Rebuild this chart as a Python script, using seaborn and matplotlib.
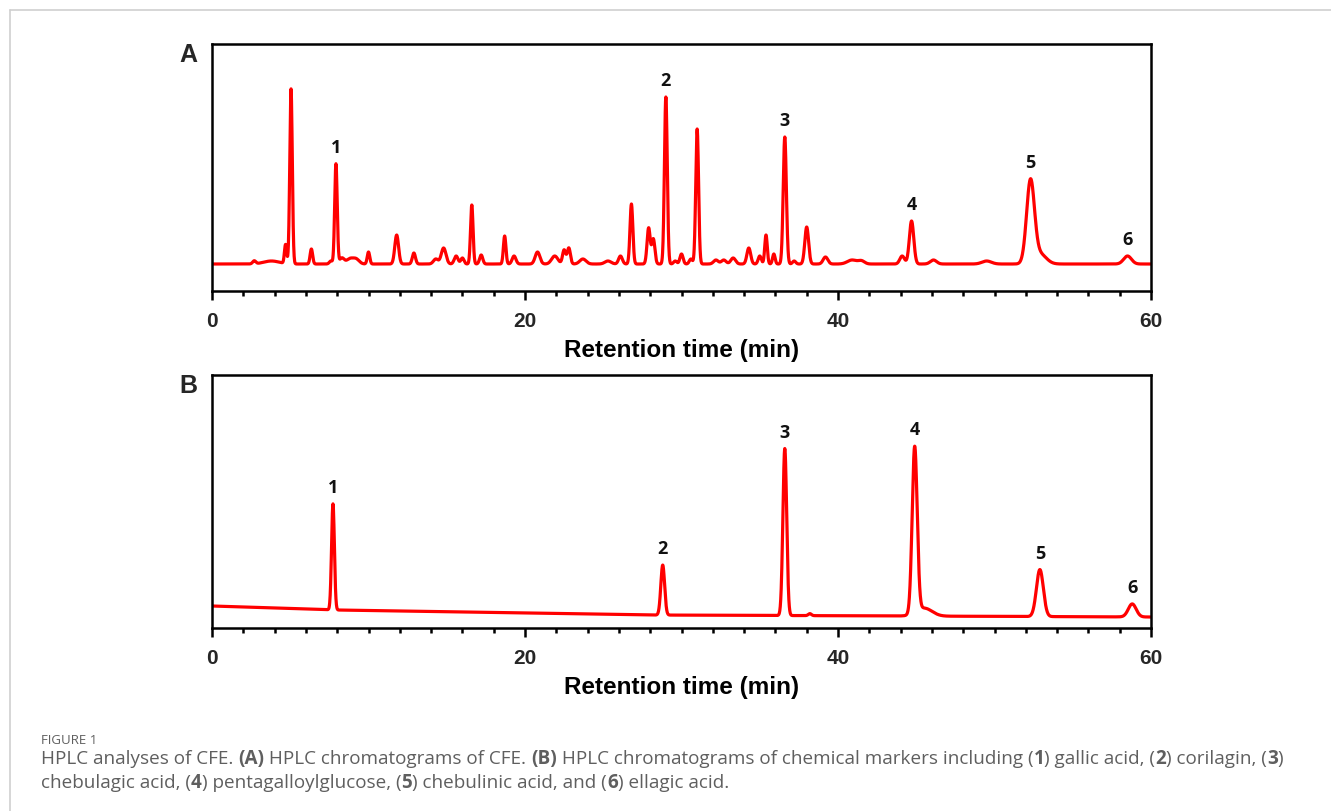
import numpy as np
import pandas as pd
import matplotlib
matplotlib.use("Agg")
import matplotlib.pyplot as plt
from matplotlib.lines import Line2D
from matplotlib.ticker import MultipleLocator
import seaborn as sns

# ---------------- data ----------------
# Panel A: CFE chromatogram peaks (retention time, height, width sigma, in min / arbitrary units)
a_rt = [2.7, 3.8, 4.7, 5.05, 6.35, 7.6, 7.92, 8.3, 8.8, 9.2, 10.0, 11.8, 12.9, 14.3, 14.8,
        15.6, 16.0, 16.6, 17.2, 18.7, 19.3, 20.8, 21.9, 22.5, 22.8, 23.7, 25.3, 26.1, 26.8,
        27.9, 28.2, 29.0, 29.6, 30.0, 30.6, 31.0, 32.2, 32.7, 33.3, 34.3, 35.0, 35.4, 35.9,
        36.6, 37.2, 38.0, 39.2, 40.9, 41.5, 44.1, 44.7, 46.1, 49.5, 52.3, 52.9, 58.5]
a_height = [3, 3, 19, 175, 15, 3, 100, 6, 5, 5, 12, 29, 11, 5, 16,
            8, 6, 59, 9, 28, 8, 12, 8, 14, 16, 5, 3, 8, 60,
            36, 25, 167, 3, 10, 5, 135, 4, 4, 6, 16, 8, 29, 10,
            127, 3, 37, 7, 4, 3, 8, 43, 4, 3, 82, 10, 8]
a_sigma = [0.1, 0.5, 0.07, 0.08, 0.08, 0.1, 0.08, 0.15, 0.2, 0.2, 0.08, 0.12, 0.1, 0.15, 0.15,
           0.12, 0.1, 0.08, 0.1, 0.08, 0.12, 0.15, 0.2, 0.1, 0.1, 0.2, 0.2, 0.12, 0.09,
           0.1, 0.1, 0.09, 0.1, 0.1, 0.1, 0.09, 0.15, 0.15, 0.15, 0.12, 0.1, 0.08, 0.08,
           0.1, 0.1, 0.12, 0.15, 0.3, 0.2, 0.15, 0.14, 0.2, 0.3, 0.25, 0.4, 0.25]
a_marker_labels = ["1", "2", "3", "4", "5", "6"]
a_marker_rt = [7.92, 29.0, 36.6, 44.7, 52.3, 58.5]

# Panel B: chemical markers
b_rt = [7.73, 28.8, 36.6, 38.2, 44.9, 45.5, 52.9, 58.8]
b_height = [106, 50, 167, 2, 166, 8, 47, 13]
b_sigma = [0.09, 0.12, 0.12, 0.1, 0.16, 0.5, 0.22, 0.25]
b_base_t = [0, 8, 28, 60]
b_base_y = [10, 6, 1, -1]
b_marker_labels = ["1", "2", "3", "4", "5", "6"]
b_marker_rt = [7.73, 28.8, 36.6, 44.9, 52.9, 58.8]

x_ticks = [0, 20, 40, 60]
x_label = "Retention time (min)"
caption_title = "FIGURE 1"
caption_runs_1 = [("HPLC analyses of CFE. ", "normal"), ("(A)", "bold"),
                  (" HPLC chromatograms of CFE. ", "normal"), ("(B)", "bold"),
                  (" HPLC chromatograms of chemical markers including (", "normal"), ("1", "bold"),
                  (") gallic acid, (", "normal"), ("2", "bold"), (") corilagin, (", "normal"),
                  ("3", "bold"), (")", "normal")]
caption_runs_2 = [("chebulagic acid, (", "normal"), ("4", "bold"), (") pentagalloylglucose, (", "normal"),
                  ("5", "bold"), (") chebulinic acid, and (", "normal"), ("6", "bold"),
                  (") ellagic acid.", "normal")]


def trace(t, rts, hs, sig, base=None):
    y = np.zeros_like(t) if base is None else base.copy()
    for r, h, s in zip(rts, hs, sig):
        y = y + h * np.exp(-0.5 * ((t - r) / s) ** 2)
    return y


t = np.linspace(0, 60, 6001)
df_a = pd.DataFrame({"t": t, "signal": trace(t, a_rt, a_height, a_sigma)})
df_b = pd.DataFrame({"t": t, "signal": trace(t, b_rt, b_height, b_sigma,
                                              np.interp(t, b_base_t, b_base_y))})

# ---------------- figure ----------------
sns.set_theme(style="white")
plt.rcParams["font.family"] = ["Liberation Sans", "DejaVu Sans"]

W, H = 1331, 812
fig = plt.figure(figsize=(W / 100, H / 100), dpi=100)
fig.patch.set_facecolor("white")


def fx(px):
    return px / W


def fy(py):
    return 1 - py / H


axA = fig.add_axes([fx(212), fy(292), fx(1151) - fx(212), fy(45) - fy(292)])
axB = fig.add_axes([fx(212), fy(629), fx(1151) - fx(212), fy(376) - fy(629)])

red = "#ff0000"
for ax, df, ylim, lab_rt, labs in [(axA, df_a, (-27, 220), a_marker_rt, a_marker_labels),
                                    (axB, df_b, (-12, 241), b_marker_rt, b_marker_labels)]:
    sns.lineplot(data=df, x="t", y="signal", ax=ax, color=red, linewidth=2.3,
                 estimator=None, sort=False)
    ax.set_xlim(0, 60)
    ax.set_ylim(*ylim)
    ax.set_yticks([])
    ax.set_ylabel("")
    ax.set_xticks(x_ticks)
    ax.xaxis.set_minor_locator(MultipleLocator(2))
    ax.tick_params(axis="x", which="major", direction="out", length=6.5, width=1.8,
                   bottom=True, pad=8, labelsize=15, color="black")
    ax.tick_params(axis="x", which="minor", direction="out", length=3.5, width=1.8,
                   bottom=True, color="black")
    for lbl in ax.get_xticklabels():
        lbl.set_fontweight("bold")
    for sp in ax.spines.values():
        sp.set_visible(True)
        sp.set_color("black")
        sp.set_linewidth(1.8)
    ax.set_xlabel(x_label, fontsize=17.5, fontweight="bold", labelpad=6, color="black")
    ax.set_facecolor("white")
    for l, r in zip(labs, lab_rt):
        m = (df["t"] > r - 0.5) & (df["t"] < r + 0.5)
        idx = df.loc[m, "signal"].idxmax()
        ax.annotate(l, xy=(df.loc[idx, "t"], df.loc[idx, "signal"]), xytext=(0, 8.5),
                    textcoords="offset points", ha="center", va="baseline",
                    fontsize=13, fontweight="bold", family=["Open Sans", "DejaVu Sans"],
                    color="#111111")

fig.text(fx(188), fy(55), "A", fontsize=18, fontweight="bold", ha="center", va="center")
fig.text(fx(188), fy(386), "B", fontsize=18, fontweight="bold", ha="center", va="center")

# page frame (light grey top and left border)
fig.add_artist(Line2D([fx(10), 1], [fy(11), fy(11)], color="#cfcfcf", lw=1.2,
                      transform=fig.transFigure))
fig.add_artist(Line2D([fx(10), fx(10)], [fy(11), 0], color="#cfcfcf", lw=1.2,
                      transform=fig.transFigure))

# caption
cap_font = ["Open Sans", "DejaVu Sans"]
cap_color = "#5f5f5f"
fig.text(fx(41), fy(744), caption_title, fontsize=9.5, family=cap_font, color=cap_color,
         va="baseline")

renderer = fig.canvas.get_renderer()


def draw_runs(x, y, runs):
    for txt, weight in runs:
        tt = fig.text(x, y, txt, fontsize=13.6, family=cap_font, color=cap_color,
                      fontweight=weight, va="baseline")
        bb = tt.get_window_extent(renderer)
        x += bb.width / W


draw_runs(fx(41), fy(764), caption_runs_1)
draw_runs(fx(41), fy(788), caption_runs_2)

fig.savefig("out.png", dpi=100, facecolor="white")
